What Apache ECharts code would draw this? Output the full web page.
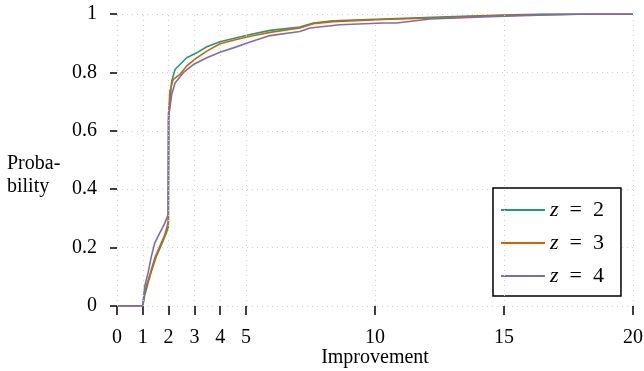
<!DOCTYPE html>
<html>
<head>
<meta charset="utf-8">
<script src="https://cdn.jsdelivr.net/npm/echarts@6/dist/echarts.min.js"></script>
<style>html,body{margin:0;padding:0;background:#fff;}#c{width:644px;height:371px;}</style>
</head>
<body>
<div id="c"></div>
<script>
var xTicks = [0, 1, 2, 3, 4, 5, 10, 15, 20];
var seriesNames = ['z = 2', 'z = 3', 'z = 4'];
var seriesColors = ['#1b9e77', '#d95f02', '#7570b3'];

var z2X = [0,1.0,1.07,1.2,1.33,1.52,1.72,1.91,1.99,2.0,2.0,2.05,2.12,2.25,2.44,2.7,3.09,3.48,3.99,4.51,5.16,5.93,7.09,7.61,8.38,10.32,12.78,15.35,16.5,20];
var z2Y = [0,0,0.035,0.078,0.118,0.169,0.209,0.249,0.272,0.275,0.66,0.70,0.77,0.81,0.827,0.85,0.867,0.888,0.905,0.916,0.93,0.944,0.955,0.969,0.977,0.983,0.99,0.997,1,1];

var z3X = [0,1.0,1.07,1.27,1.46,1.65,1.85,1.99,2.0,2.0,2.05,2.18,2.44,2.7,3.09,3.48,3.99,4.51,5.16,5.93,7.09,7.61,8.38,10.32,12.5,14.07,16.0,18.33,20];
var z3Y = [0,0,0.05,0.106,0.163,0.203,0.243,0.289,0.29,0.66,0.735,0.776,0.793,0.822,0.85,0.873,0.898,0.91,0.924,0.937,0.952,0.967,0.974,0.981,0.987,0.993,0.997,1,1];

var z4X = [0,1.0,1.07,1.2,1.33,1.46,1.65,1.85,1.98,2.0,2.0,2.03,2.12,2.25,2.57,2.96,3.48,3.99,4.51,5.16,5.93,7.09,7.48,8.64,10.32,10.84,12.13,14.72,16.65,18.33,20];
var z4Y = [0,0,0.066,0.112,0.169,0.215,0.249,0.283,0.312,0.315,0.64,0.666,0.724,0.764,0.799,0.827,0.85,0.869,0.884,0.904,0.926,0.94,0.952,0.963,0.969,0.969,0.983,0.992,0.997,1,1];

var xs = [z2X, z3X, z4X];
var ys = [z2Y, z3Y, z4Y];

function pairs(x, y) { return x.map(function (v, i) { return [v, y[i]]; }); }

var FONT = 'Liberation Serif';
var GRID_STYLE = { color: '#d0d0d0', type: [1, 4], width: 1 };
var chart = echarts.init(document.getElementById('c'));

var series = [{
  name: 'grid', type: 'line', data: [], z: 1, silent: true,
  markLine: {
    silent: true, symbol: ['none', 'none'], label: { show: false },
    lineStyle: GRID_STYLE, emphasis: { disabled: true },
    data: xTicks.map(function (v) { return { xAxis: v }; })
  }
}].concat(seriesNames.map(function (n, i) {
  return {
    name: n, type: 'line', showSymbol: false, symbol: 'none', z: 3,
    data: pairs(xs[i], ys[i]),
    lineStyle: { color: seriesColors[i], width: 1.6 },
    itemStyle: { color: seriesColors[i] }
  };
}));

chart.setOption({
  animation: false,
  backgroundColor: '#fff',
  grid: { left: 117, right: 11, top: 14, bottom: 65, containLabel: false, outerBoundsMode: 'none' },
  xAxis: {
    type: 'value', min: 0, max: 20, offset: 3,
    name: 'Improvement', nameLocation: 'middle', nameGap: 39, nameMoveOverlap: false,
    nameTextStyle: { fontFamily: FONT, fontSize: 20, color: '#000' },
    axisLine: { show: false },
    axisTick: { show: true, length: 9, customValues: xTicks, lineStyle: { color: '#000', width: 1.5 } },
    axisLabel: { customValues: xTicks, margin: 19, fontFamily: FONT, fontSize: 20, color: '#000' },
    splitLine: { show: false }
  },
  yAxis: {
    type: 'value', min: 0, max: 1, interval: 0.2, offset: 4,
    axisLine: { show: false },
    axisTick: { show: true, length: 7, lineStyle: { color: '#000', width: 1.5 } },
    axisLabel: { margin: 16, fontFamily: FONT, fontSize: 20, color: '#000' },
    splitLine: { show: true, lineStyle: GRID_STYLE }
  },
  legend: {
    orient: 'vertical', left: 493, top: 188,
    data: seriesNames,
    icon: 'rect', itemWidth: 44, itemHeight: 2, itemGap: 11,
    padding: [11, 17, 9, 8],
    borderColor: '#000', borderWidth: 1.5, borderRadius: 0,
    backgroundColor: '#fff',
    formatter: function (name) {
      var parts = name.split(' = ');
      return '{i|' + parts[0] + '}\u2002=\u2002' + parts[1];
    },
    textStyle: {
      fontFamily: FONT, fontSize: 22, color: '#000',
      rich: { i: { fontFamily: FONT, fontSize: 22, fontStyle: 'italic', color: '#000' } }
    }
  },
  graphic: [{
    type: 'text', left: 7, top: 152,
    style: { text: 'Proba-\nbility', fontFamily: FONT, fontSize: 20, lineHeight: 23, fill: '#000' }
  }],
  series: series
});
</script>
</body>
</html>
